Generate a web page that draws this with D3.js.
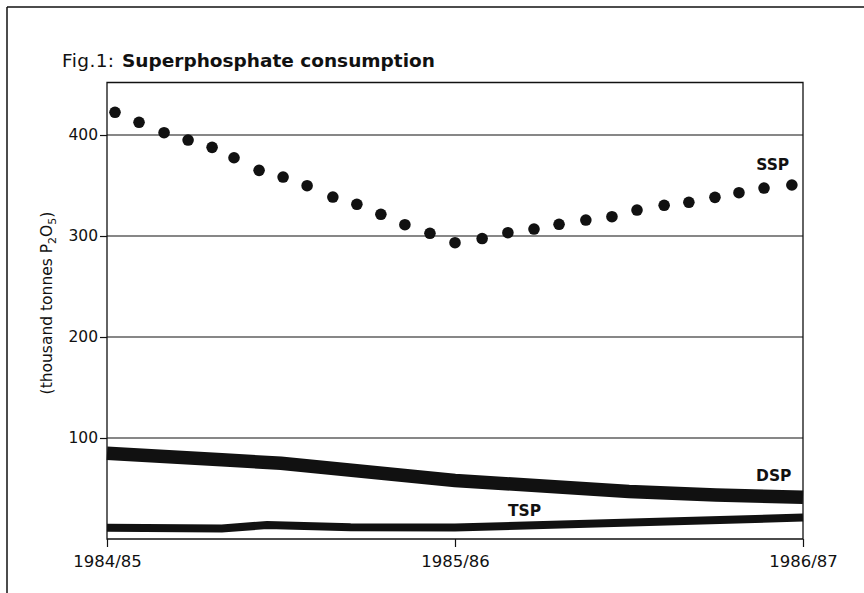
<!DOCTYPE html>
<html>
<head>
<meta charset="utf-8">
<script src="https://cdn.jsdelivr.net/npm/d3@7"></script>
<style>
  html, body { margin: 0; padding: 0; background: #fff; }
  svg { display: block; }
</style>
</head>
<body>
<svg id="chart" width="864" height="593"></svg>
<script>
// ---- data (time in years after the start of 1984/85) ----
const xLabels = ["1984/85", "1985/86", "1986/87"];
const xTicks = [0, 1, 2];
const yTicks = [100, 200, 300, 400];

const sspTime = [0.023, 0.092, 0.164, 0.233, 0.302, 0.365, 0.437, 0.506, 0.575, 0.649,
                 0.718, 0.787, 0.856, 0.928, 1.000, 1.078, 1.152, 1.227, 1.299, 1.376,
                 1.451, 1.523, 1.601, 1.672, 1.747, 1.816, 1.888, 1.968];
const sspValues = [422.5, 412.6, 402.3, 395.0, 387.8, 377.5, 365.0, 358.4, 349.8, 338.6,
                   331.4, 321.5, 311.2, 302.7, 293.4, 297.5, 303.3, 306.9, 311.6, 315.8,
                   319.1, 325.7, 330.4, 333.4, 338.3, 342.9, 347.5, 350.5];

const dspTime = [0, 0.33, 0.5, 1.0, 1.5, 1.75, 2.0];
const dspValues = [85, 78.5, 75, 58, 47, 43.5, 41.3];

const tspTime = [0, 0.33, 0.46, 0.7, 1.0, 2.0];
const tspValues = [11.2, 10.5, 13.8, 11.6, 11.4, 21.2];

const seriesLabels = ["SSP", "DSP", "TSP"];

// ---- layout ----
const svg = d3.select("#chart");
const ink = "#111";
const x = d3.scaleLinear().domain([0, 2]).range([107, 803]);
const y = d3.scaleLinear().domain([0, 452]).range([539, 82.5]);

// outer frame (top and left edges)
svg.append("line").attr("x1", 7).attr("x2", 864).attr("y1", 7).attr("y2", 7)
  .attr("stroke", ink).attr("stroke-width", 1.5);
svg.append("line").attr("x1", 7).attr("x2", 7).attr("y1", 7).attr("y2", 593)
  .attr("stroke", ink).attr("stroke-width", 1.5);

// title
const title = svg.append("text").attr("x", 62).attr("y", 67)
  .attr("font-family", "DejaVu Sans").attr("font-size", 18.5).attr("fill", ink);
title.append("tspan").attr("letter-spacing", 0.4).text("Fig.1:");
title.append("tspan").attr("x", 122).attr("font-weight", "bold").text("Superphosphate consumption");

// gridlines
svg.append("g").selectAll("line").data(yTicks).join("line")
  .attr("x1", x(0)).attr("x2", x(2))
  .attr("y1", d => y(d)).attr("y2", d => y(d))
  .attr("stroke", ink).attr("stroke-width", 1.2);

// plot frame: top, right, baseline, left
const [x0, x1] = x.range();
const yTop = y(452), yBase = y(0);
svg.append("path")
  .attr("d", `M${x0},${yBase}V${yTop}H${x1}V${yBase}Z`)
  .attr("fill", "none").attr("stroke", ink).attr("stroke-width", 1.3);

// y axis
const yAxis = svg.append("g").attr("transform", `translate(${x0},0)`)
  .call(d3.axisLeft(y).tickValues(yTicks).tickSize(7).tickPadding(2).tickFormat(d3.format("d")));
yAxis.select(".domain").remove();
yAxis.selectAll("line").attr("stroke", ink).attr("stroke-width", 1.2);
yAxis.selectAll("text").attr("font-family", "DejaVu Sans").attr("font-size", 15.5).attr("fill", ink);

// x axis
const xAxis = svg.append("g").attr("transform", `translate(0,${yBase})`)
  .call(d3.axisBottom(x).tickValues(xTicks).tickSize(8).tickPadding(8).tickFormat(d => xLabels[d]));
xAxis.select(".domain").remove();
xAxis.selectAll("line").attr("stroke", ink).attr("stroke-width", 1.2);
xAxis.selectAll("text").attr("font-family", "DejaVu Sans").attr("font-size", 16.5).attr("fill", ink);

// y axis title
const yt = svg.append("text")
  .attr("transform", "translate(52,303) rotate(-90)")
  .attr("text-anchor", "middle")
  .attr("font-family", "DejaVu Sans").attr("font-size", 15.5).attr("fill", ink);
yt.append("tspan").text("(thousand tonnes P");
yt.append("tspan").attr("font-size", 11).attr("dy", 4).text("2");
yt.append("tspan").attr("dy", -4).text("O");
yt.append("tspan").attr("font-size", 11).attr("dy", 4).text("5");
yt.append("tspan").attr("dy", -4).text(")");

// lines
const line = d3.line().x(d => x(d[0])).y(d => y(d[1])).curve(d3.curveLinear);
svg.append("path").datum(d3.zip(dspTime, dspValues))
  .attr("d", line).attr("fill", "none").attr("stroke", ink).attr("stroke-width", 13.5);
svg.append("path").datum(d3.zip(tspTime, tspValues))
  .attr("d", line).attr("fill", "none").attr("stroke", ink).attr("stroke-width", 8);

// SSP dots
svg.append("g").selectAll("circle").data(d3.zip(sspTime, sspValues)).join("circle")
  .attr("cx", d => x(d[0])).attr("cy", d => y(d[1])).attr("r", 5.8).attr("fill", ink);

// series labels
const labelPos = [[1.913, 365], [1.916, 57.5], [1.2, 22.5]];
svg.append("g").selectAll("text").data(seriesLabels).join("text")
  .attr("x", (d, i) => x(labelPos[i][0])).attr("y", (d, i) => y(labelPos[i][1]))
  .attr("text-anchor", "middle")
  .attr("font-family", "DejaVu Sans").attr("font-weight", "bold").attr("font-size", 15.5)
  .attr("fill", ink).text(d => d);
</script>
</body>
</html>
